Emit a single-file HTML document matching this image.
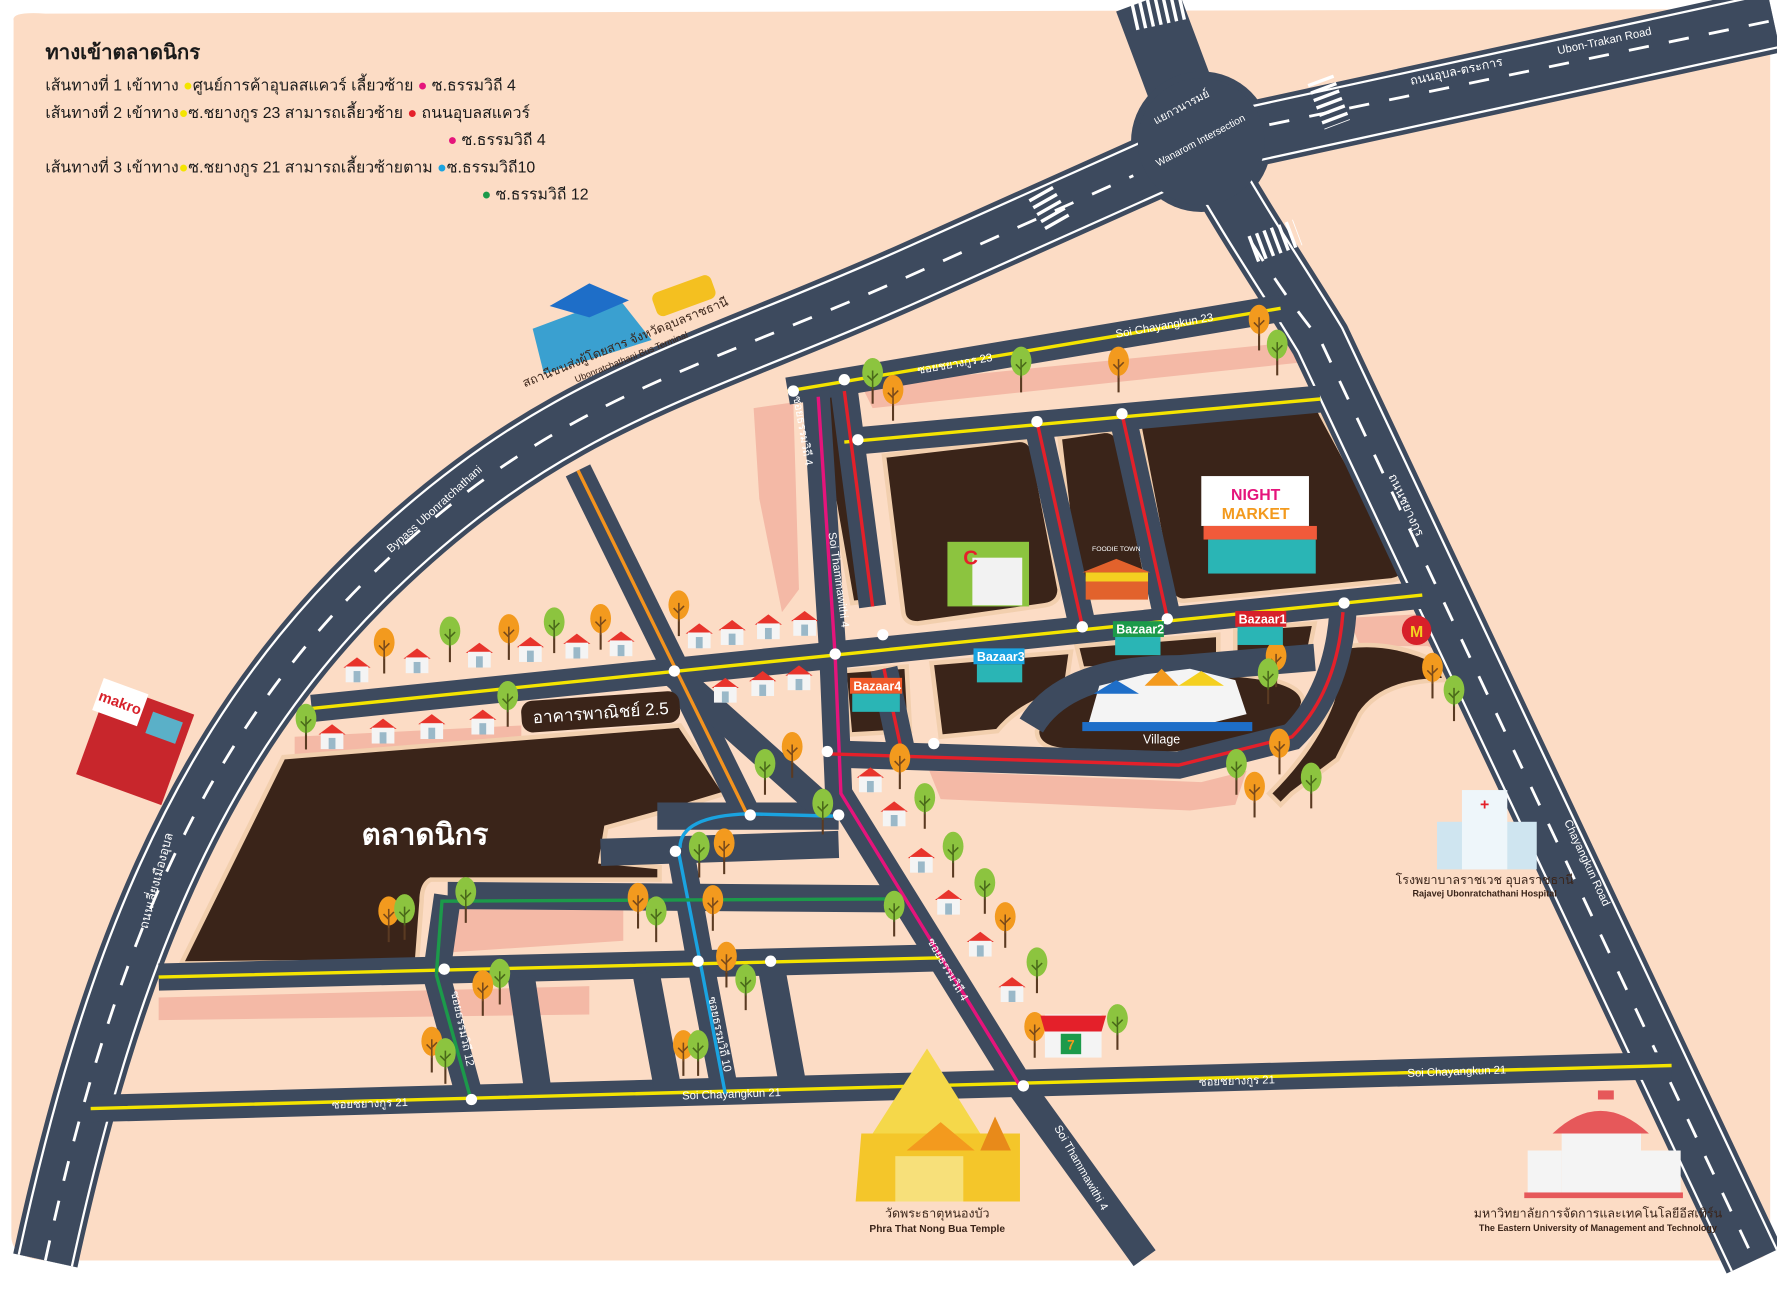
<!DOCTYPE html>
<html><head><meta charset="utf-8"><style>
html,body{margin:0;padding:0;background:#fff;}
svg{display:block}
text{font-family:"Liberation Sans","Noto Sans CJK SC",sans-serif;}
</style></head><body>
<svg width="1777" height="1299" viewBox="0 0 1568 1146" preserveAspectRatio="none" xmlns="http://www.w3.org/2000/svg">
<defs>
<symbol id="to" viewBox="0 0 24 44"><rect x="11" y="20" width="2" height="24" fill="#5a3a22"/><ellipse cx="12" cy="14" rx="10" ry="14" fill="#f39a1e"/><path d="M12 12 L12 30 M12 22 L7 17 M12 20 L17 15" stroke="#7a4a1a" stroke-width="1.5"/></symbol>
<symbol id="tg" viewBox="0 0 24 44"><rect x="11" y="20" width="2" height="24" fill="#5a3a22"/><ellipse cx="12" cy="14" rx="10" ry="14" fill="#8cc43f"/><path d="M12 12 L12 30 M12 22 L7 17 M12 20 L17 15" stroke="#4a6a1a" stroke-width="1.5"/></symbol>
<symbol id="hs" viewBox="0 0 26 24"><path d="M1 11 L13 2 L25 11 Z" fill="#e8342c"/><rect x="3" y="10" width="20" height="14" fill="#f4f4f4"/><rect x="10" y="14" width="6" height="10" fill="#9ab8c8"/></symbol>
</defs>
<rect width="1568" height="1146" fill="#fff"/>
<path d="M12 18 Q10 10 40 12 L1545 8 Q1562 8 1562 30 L1562 1100 Q1560 1112 1540 1112 L40 1112 Q10 1110 10 1090 Z" fill="#fcdcc5"/>

<g fill="#f4b9a6">
<path d="M760 340 L1160 300 L1165 318 L770 360 Z"/>
<path d="M665 360 L700 355 L705 520 L690 540 L670 440 Z"/>
<path d="M140 880 L520 870 L520 895 L140 900 Z"/>
<path d="M260 650 L460 640 L460 660 L260 670 Z"/>
<path d="M820 680 L1060 690 L1100 680 L1090 710 L1050 715 L830 705 Z"/>
<path d="M1190 545 L1290 540 L1300 590 L1260 570 L1200 570 Z"/>
<path d="M400 800 L550 795 L550 830 L400 840 Z"/>
</g>

<g fill="#3a2419" stroke="#f2cfae" stroke-width="4">
<path d="M250 668 L600 640 L640 700 L600 712 L535 730 L530 760 L582 765 L582 776 L380 776 Q372 780 372 795 L368 848 L160 850 Z"/>
<path d="M780 402 L900 388 Q910 388 912 400 L935 520 Q935 532 922 534 L810 550 Q798 550 797 540 Z"/>
<path d="M935 386 L975 380 Q985 380 987 390 L1012 512 Q1012 522 1000 524 L962 528 Q952 528 950 518 Z"/>
<path d="M1005 374 L1150 356 Q1162 356 1166 366 L1238 500 Q1240 510 1228 512 L1045 530 Q1035 530 1033 520 Z"/>
<path d="M720 350 L742 347 L770 530 L752 532 Z"/>
<path d="M822 585 L945 575 L940 610 Q900 620 880 645 L830 650 Z"/>
<path d="M745 592 L800 588 L803 645 L750 648 Z"/>
<path d="M915 645 Q930 600 1040 595 L1090 595 Q1150 600 1150 620 Q1140 660 1030 665 L940 662 Q915 660 915 645 Z"/>
<path d="M1190 570 Q1230 565 1270 585 L1275 600 Q1220 600 1200 630 L1180 670 L1140 700 L1130 710 L1120 700 Q1160 660 1175 620 Z"/>
<path d="M950 570 L1075 560 L1075 585 L955 590 Z"/>
<path d="M1090 555 L1160 550 L1155 575 L1090 580 Z"/>
</g>

<g fill="none" stroke-linecap="butt">
<path d="M40 1112 C 95 860, 170 660, 330 505 S 610 330, 810 240 L1060 128 L1565 18" stroke="#3d4a5e" stroke-width="58"/>
<path d="M1012 0 L1060 128" stroke="#3d4a5e" stroke-width="58"/>
<path d="M1060 128 C1100 200,1135 250,1165 300 L1548 1112" stroke="#3d4a5e" stroke-width="54"/>
<circle cx="1060" cy="125" r="62" fill="#3d4a5e"/>
<path d="M40 1112 C 95 860, 170 660, 330 505 S 610 330, 810 240 L1060 128 L1565 18" stroke="#fff" stroke-width="50"/>
<path d="M40 1112 C 95 860, 170 660, 330 505 S 610 330, 810 240 L1060 128 L1565 18" stroke="#3d4a5e" stroke-width="46"/>
<path d="M1060 128 C1100 200,1135 250,1165 300 L1548 1112" stroke="#fff" stroke-width="46"/>
<path d="M1060 128 C1100 200,1135 250,1165 300 L1548 1112" stroke="#3d4a5e" stroke-width="42"/>
<circle cx="1060" cy="125" r="56" fill="#3d4a5e"/>
<path d="M40 1112 C 95 860, 170 660, 330 505 S 610 330, 810 240 L1000 155 M1120 110 L1565 18" stroke="#fff" stroke-width="2.5" stroke-dasharray="18 18"/>
<path d="M1105 215 C1130 255,1145 275,1165 300 L1548 1112" stroke="#fff" stroke-width="2.5" stroke-dasharray="18 18"/>
</g>
<g stroke="#fff" stroke-width="24" stroke-dasharray="3 4" fill="none">
<path d="M1000 15 L1045 5"/>
<path d="M1165 70 L1180 110"/>
<path d="M918 170 L935 200"/>
<path d="M1105 220 L1145 205"/>
</g>

<g fill="none" stroke="#3d4a5e" stroke-width="24" stroke-linecap="butt">
<path d="M80 978 L1475 940"/>
<path d="M140 862 L830 845"/>
<path d="M275 625 L1255 525"/>
<path d="M695 345 L1130 272"/>
<path d="M745 390 L1165 352"/>
<path d="M720 345 L735 580 L740 700 L900 958 L1010 1110"/>
<path d="M510 415 L660 720"/>
<path d="M745 345 L770 535 M780 590 L795 660 M915 372 L955 552 M990 365 L1030 545"/>
<path d="M730 665 L1040 675 L1140 650 Q1180 610 1185 540"/>
<path d="M530 752 L740 745 M580 720 L740 720 M395 790 L790 793"/>
<path d="M395 790 L385 860 L415 970"/>
<path d="M600 748 L620 860 L640 965"/>
<path d="M460 862 L475 965 M570 858 L590 965 M680 850 L700 960"/>
<path d="M595 595 L735 720"/>
<path d="M910 640 Q940 590 1040 590 L1160 580"/>
</g>
<g fill="none" stroke-width="3">
<path d="M80 978 L1475 940 M140 862 L830 845 M275 625 L1255 525 M695 345 L1130 272 M745 390 L1165 352" stroke="#f4e400"/>
<path d="M510 415 L660 720" stroke="#f3931e"/>
<path d="M722 350 L737 580 L742 700 L900 958" stroke="#e5147b"/>
<path d="M745 345 L770 535 M780 590 L795 660 M915 372 L955 552 M990 365 L1030 545 M730 665 L1040 675 L1140 650 Q1180 610 1185 540" stroke="#e4202a"/>
<path d="M598 748 L620 860 L640 965 M600 748 Q600 720 660 718 L735 720" stroke="#1aa3e0"/>
<path d="M385 860 L415 968 M385 860 L390 795 L790 793" stroke="#1c9a4a"/>
</g>
<g fill="#fff">
<circle cx="700" cy="345" r="5"/><circle cx="745" cy="335" r="5"/><circle cx="757" cy="388" r="5"/><circle cx="915" cy="372" r="5"/><circle cx="990" cy="365" r="5"/>
<circle cx="595" cy="592" r="5"/><circle cx="737" cy="577" r="5"/><circle cx="779" cy="560" r="5"/><circle cx="955" cy="553" r="5"/><circle cx="1030" cy="546" r="5"/><circle cx="1186" cy="532" r="5"/>
<circle cx="730" cy="663" r="5"/><circle cx="824" cy="656" r="5"/><circle cx="662" cy="719" r="5"/><circle cx="740" cy="719" r="5"/><circle cx="596" cy="751" r="5"/>
<circle cx="392" cy="855" r="5"/><circle cx="616" cy="848" r="5"/><circle cx="680" cy="848" r="5"/><circle cx="416" cy="970" r="5"/><circle cx="903" cy="958" r="5"/>
</g>

<g>
<use href="#to" x="328" y="553" width="22" height="42"/><use href="#tg" x="386" y="543" width="22" height="42"/><use href="#to" x="438" y="541" width="22" height="42"/><use href="#tg" x="478" y="535" width="22" height="42"/><use href="#to" x="519" y="532" width="22" height="42"/><use href="#to" x="588" y="520" width="22" height="42"/>
<use href="#tg" x="259" y="620" width="22" height="42"/><use href="#tg" x="437" y="600" width="22" height="42"/>
<use href="#tg" x="759" y="315" width="22" height="42"/><use href="#to" x="777" y="330" width="22" height="42"/><use href="#tg" x="890" y="305" width="22" height="42"/><use href="#to" x="976" y="305" width="22" height="42"/><use href="#to" x="1100" y="268" width="22" height="42"/><use href="#tg" x="1116" y="290" width="22" height="42"/>
<use href="#tg" x="664" y="660" width="22" height="42"/><use href="#to" x="688" y="645" width="22" height="42"/><use href="#to" x="783" y="655" width="22" height="42"/><use href="#tg" x="805" y="690" width="22" height="42"/><use href="#tg" x="715" y="695" width="22" height="42"/>
<use href="#tg" x="830" y="733" width="22" height="42"/><use href="#tg" x="858" y="765" width="22" height="42"/><use href="#to" x="876" y="795" width="22" height="42"/><use href="#tg" x="904" y="835" width="22" height="42"/><use href="#to" x="902" y="892" width="22" height="42"/><use href="#tg" x="975" y="885" width="22" height="42"/>
<use href="#tg" x="606" y="733" width="22" height="42"/><use href="#to" x="628" y="730" width="22" height="42"/><use href="#to" x="552" y="778" width="22" height="42"/><use href="#tg" x="568" y="790" width="22" height="42"/><use href="#to" x="618" y="780" width="22" height="42"/><use href="#tg" x="778" y="785" width="22" height="42"/>
<use href="#tg" x="400" y="773" width="22" height="42"/><use href="#to" x="332" y="790" width="22" height="42"/><use href="#tg" x="346" y="788" width="22" height="42"/>
<use href="#to" x="630" y="830" width="22" height="42"/><use href="#tg" x="647" y="850" width="22" height="42"/><use href="#tg" x="430" y="845" width="22" height="42"/><use href="#to" x="415" y="855" width="22" height="42"/>
<use href="#to" x="370" y="905" width="22" height="42"/><use href="#tg" x="382" y="915" width="22" height="42"/><use href="#to" x="592" y="908" width="22" height="42"/><use href="#tg" x="605" y="908" width="22" height="42"/>
<use href="#to" x="1115" y="565" width="22" height="42"/><use href="#tg" x="1108" y="580" width="22" height="42"/><use href="#to" x="1253" y="575" width="22" height="42"/><use href="#tg" x="1272" y="595" width="22" height="42"/>
<use href="#to" x="1118" y="642" width="22" height="42"/><use href="#tg" x="1080" y="660" width="22" height="42"/><use href="#to" x="1096" y="680" width="22" height="42"/><use href="#tg" x="1146" y="672" width="22" height="42"/>
<use href="#hs" x="302" y="578" width="26" height="24"/><use href="#hs" x="355" y="570" width="26" height="24"/><use href="#hs" x="410" y="565" width="26" height="24"/><use href="#hs" x="455" y="560" width="26" height="24"/><use href="#hs" x="496" y="557" width="26" height="24"/><use href="#hs" x="535" y="555" width="26" height="24"/>
<use href="#hs" x="604" y="548" width="26" height="24"/><use href="#hs" x="633" y="545" width="26" height="24"/><use href="#hs" x="665" y="540" width="26" height="24"/><use href="#hs" x="697" y="537" width="26" height="24"/>
<use href="#hs" x="280" y="637" width="26" height="24"/><use href="#hs" x="325" y="632" width="26" height="24"/><use href="#hs" x="368" y="628" width="26" height="24"/><use href="#hs" x="413" y="624" width="26" height="24"/>
<use href="#hs" x="627" y="596" width="26" height="24"/><use href="#hs" x="660" y="590" width="26" height="24"/><use href="#hs" x="692" y="585" width="26" height="24"/>
<use href="#hs" x="755" y="675" width="26" height="24"/><use href="#hs" x="776" y="705" width="26" height="24"/><use href="#hs" x="800" y="746" width="26" height="24"/><use href="#hs" x="824" y="783" width="26" height="24"/><use href="#hs" x="852" y="820" width="26" height="24"/><use href="#hs" x="880" y="860" width="26" height="24"/>
</g>

<text x="375" y="745" font-size="26" fill="#fff" text-anchor="middle" font-weight="bold">ตลาดนิกร</text>
<g transform="rotate(-4 530 628)"><rect x="460" y="614" width="140" height="28" rx="10" fill="#3a2419"/><text x="530" y="634" font-size="15" fill="#fff" text-anchor="middle">อาคารพาณิชย์ 2.5</text></g>

<rect x="1060" y="420" width="95" height="44" fill="#fff"/>
<text x="1108" y="441" font-size="14" font-weight="bold" fill="#e5147b" text-anchor="middle">NIGHT</text>
<text x="1108" y="458" font-size="14" font-weight="bold" fill="#f39a1e" text-anchor="middle">MARKET</text>
<rect x="1062" y="464" width="100" height="12" fill="#f15a3a"/>
<rect x="1066" y="476" width="95" height="30" fill="#2ab5b5"/>
<rect x="836" y="478" width="72" height="57" fill="#8cc43f"/><rect x="858" y="492" width="44" height="42" fill="#f2f2f2"/>
<text x="850" y="498" font-size="18" font-weight="bold" fill="#e4202a">C</text>
<path d="M955 505 L985 493 L1015 505 Z" fill="#e2622c"/><rect x="958" y="505" width="55" height="24" fill="#e2622c"/><rect x="958" y="505" width="55" height="8" fill="#f4d020"/>
<text x="985" y="486" font-size="6" fill="#fff" text-anchor="middle">FOODIE TOWN</text>
<g font-size="11" font-weight="bold" fill="#fff">
<rect x="1090" y="539" width="45" height="14" fill="#d7202a"/><text x="1093" y="550">Bazaar1</text><rect x="1092" y="553" width="40" height="16" fill="#2ab5b5"/>
<rect x="982" y="548" width="45" height="14" fill="#1c9a4a"/><text x="985" y="559">Bazaar2</text><rect x="984" y="562" width="40" height="16" fill="#2ab5b5"/>
<rect x="859" y="572" width="45" height="14" fill="#1aa3e0"/><text x="862" y="583">Bazaar3</text><rect x="862" y="586" width="40" height="16" fill="#2ab5b5"/>
<rect x="750" y="598" width="46" height="14" fill="#f15a2a"/><text x="753" y="609">Bazaar4</text><rect x="752" y="612" width="42" height="16" fill="#2ab5b5"/>
</g>
<path d="M960 640 L970 605 L1010 595 L1050 590 L1090 600 L1100 630 L1060 640 Z" fill="#f4f4f4"/>
<path d="M965 612 L985 600 L1005 612 Z" fill="#1e6ec8"/><path d="M1040 605 L1060 592 L1080 605 Z" fill="#f4d020"/><path d="M1010 605 L1025 590 L1040 605 Z" fill="#f39a1e"/>
<rect x="955" y="637" width="150" height="8" fill="#1e6ec8"/>
<text x="1025" y="656" font-size="11" fill="#fff" text-anchor="middle">Village</text>
<circle cx="1250" cy="556" r="13" fill="#d7202a"/><text x="1250" y="562" font-size="14" font-weight="bold" fill="#f4d020" text-anchor="middle">M</text>

<g><path d="M470 290 L545 262 L575 300 L480 330 Z" fill="#3aa0d0"/><path d="M485 270 L520 250 L555 265 L520 280 Z" fill="#1e6ec8"/>
<rect x="576" y="250" width="55" height="22" rx="6" fill="#f4c020" transform="rotate(-20 603 261)"/></g>
<g transform="rotate(-22 555 310)"><text x="555" y="305" font-size="11" fill="#3a2419" text-anchor="middle">สถานีขนส่งผู้โดยสาร จังหวัดอุบลราชธานี</text><text x="555" y="318" font-size="8" fill="#3a2419" text-anchor="middle">Ubonratchathani Bus Terminal</text></g>

<g transform="rotate(20 122 655)"><rect x="80" y="615" width="80" height="85" fill="#c8262c"/><rect x="74" y="612" width="42" height="30" fill="#fff"/><text x="95" y="632" font-size="13" font-weight="bold" fill="#d7202a" text-anchor="middle">makro</text><rect x="125" y="625" width="28" height="20" fill="#5ab0c8"/></g>

<rect x="922" y="895" width="50" height="38" fill="#f4f4f4"/><path d="M918 896 L976 896 L972 910 L922 910 Z" fill="#e4202a"/><rect x="936" y="912" width="18" height="18" fill="#1c9a4a"/><text x="945" y="926" font-size="12" font-weight="bold" fill="#f39a1e" text-anchor="middle">7</text>

<path d="M818 925 L865 1000 L770 1000 Z" fill="#f5d84a"/><path d="M760 1000 L900 1000 L900 1060 L755 1060 Z" fill="#f4c62a"/><path d="M800 1015 L830 990 L860 1015 Z" fill="#f39a1e"/><rect x="790" y="1020" width="60" height="40" fill="#f7e07a"/><path d="M865 1015 L878 985 L892 1015 Z" fill="#e88a1a"/>
<text x="827" y="1074" font-size="11" fill="#3a2419" text-anchor="middle">วัดพระธาตุหนองบัว</text><text x="827" y="1087" font-size="9" font-weight="bold" fill="#3a2419" text-anchor="middle">Phra That Nong Bua Temple</text>
<rect x="1268" y="725" width="88" height="42" fill="#cfe5f0"/><rect x="1290" y="697" width="40" height="70" fill="#eef6fa"/><text x="1310" y="714" font-size="14" font-weight="bold" fill="#e4202a" text-anchor="middle">+</text>
<text x="1310" y="780" font-size="11" fill="#3a2419" text-anchor="middle">โรงพยาบาลราชเวช อุบลราชธานี</text><text x="1310" y="791" font-size="8" font-weight="bold" fill="#3a2419" text-anchor="middle">Rajavej Ubonratchathani Hospital</text>
<path d="M1370 1000 Q1412 960 1455 1000 Z" fill="#e6585a"/><rect x="1378" y="1000" width="70" height="55" fill="#f4f4f4"/><rect x="1348" y="1015" width="30" height="40" fill="#f4f4f4"/><rect x="1448" y="1015" width="35" height="40" fill="#f4f4f4"/><rect x="1345" y="1052" width="140" height="5" fill="#e6585a"/><rect x="1410" y="962" width="14" height="8" fill="#e6585a"/>
<text x="1410" y="1074" font-size="11" fill="#3a2419" text-anchor="middle">มหาวิทยาลัยการจัดการและเทคโนโลยีอีสเทิร์น</text><text x="1410" y="1086" font-size="8" font-weight="bold" fill="#3a2419" text-anchor="middle">The Eastern University of Management and Technology</text>

<g font-size="10" fill="#fff">
<text transform="translate(345 488) rotate(-42)">Bypass Ubonratchathani</text>
<text transform="translate(130 820) rotate(-75)" font-size="11">ถนนเลี่ยงเมืองอุบล</text>
<text transform="translate(1245 75) rotate(-12)" font-size="11">ถนนอุบล-ตระการ</text>
<text transform="translate(1375 48) rotate(-12)">Ubon-Trakan Road</text>
<text transform="translate(1020 110) rotate(-28)" font-size="10">แยกวนารมย์</text>
<text transform="translate(1022 147) rotate(-28)" font-size="9">Wanarom Intersection</text>
<text transform="translate(1225 420) rotate(65)" font-size="11">ถนนชยางกูร</text>
<text transform="translate(1380 725) rotate(65)">Chayangkun Road</text>
<text transform="translate(810 330) rotate(-10)" font-size="10">ซอยชยางกูร 23</text>
<text transform="translate(985 298) rotate(-10)" font-size="10">Soi Chayangkun 23</text>
<text transform="translate(700 350) rotate(80)" font-size="10">ซอยธรรมวิถี 4</text>
<text transform="translate(731 470) rotate(82)" font-size="10">Soi Thammawithi 4</text>
<text transform="translate(818 830) rotate(60)" font-size="10">ซอยธรรมวิถี 4</text>
<text transform="translate(930 995) rotate(60)" font-size="10">Soi Thammawithi 4</text>
<text transform="translate(293 978) rotate(-2)" font-size="10">ซอยชยางกูร 21</text>
<text transform="translate(602 970) rotate(-2)" font-size="10">Soi Chayangkun 21</text>
<text transform="translate(1058 958) rotate(-2)" font-size="10">ซอยชยางกูร 21</text>
<text transform="translate(1242 950) rotate(-2)" font-size="10">Soi Chayangkun 21</text>
<text transform="translate(398 875) rotate(78)" font-size="10">ซอยธรรมวิถี 12</text>
<text transform="translate(625 880) rotate(78)" font-size="10">ซอยธรรมวิถี 10</text>
</g>

<g fill="#1a1a1a">
<text x="40" y="52" font-size="18" font-weight="bold">ทางเข้าตลาดนิกร</text>
<text x="40" y="80" font-size="14">เส้นทางที่ 1 เข้าทาง <tspan fill="#f4e400">●</tspan>ศูนย์การค้าอุบลสแควร์ เลี้ยวซ้าย <tspan fill="#e5147b">●</tspan> ซ.ธรรมวิถี 4</text>
<text x="40" y="104" font-size="14">เส้นทางที่ 2 เข้าทาง<tspan fill="#f4e400">●</tspan>ซ.ชยางกูร 23 สามารถเลี้ยวซ้าย <tspan fill="#e4202a">●</tspan> ถนนอุบลสแควร์</text>
<text x="395" y="128" font-size="14"><tspan fill="#e5147b">●</tspan> ซ.ธรรมวิถี 4</text>
<text x="40" y="152" font-size="14">เส้นทางที่ 3 เข้าทาง<tspan fill="#f4e400">●</tspan>ซ.ชยางกูร 21 สามารถเลี้ยวซ้ายตาม <tspan fill="#1aa3e0">●</tspan>ซ.ธรรมวิถี10</text>
<text x="425" y="176" font-size="14"><tspan fill="#1c9a4a">●</tspan> ซ.ธรรมวิถี 12</text>
</g>
</svg>
</body></html>
